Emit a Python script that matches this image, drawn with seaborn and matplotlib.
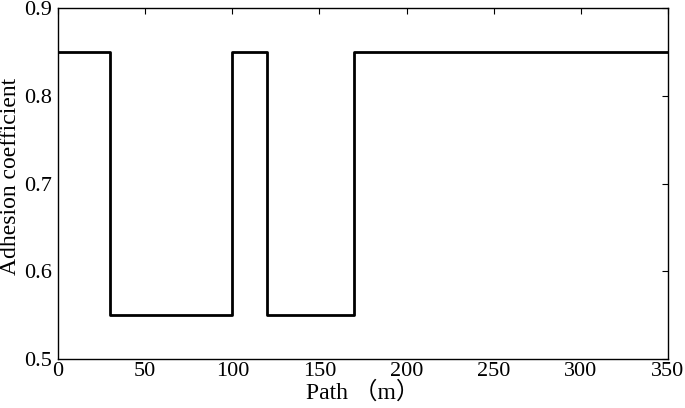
import pandas as pd
import matplotlib
matplotlib.use("Agg")
import matplotlib.pyplot as plt
import seaborn as sns

# datos del coeficiente de adherencia por tramo
path_m = [0, 30, 100, 120, 170, 350]
adhesion = [0.85, 0.55, 0.85, 0.55, 0.85, 0.85]
x_ticks = [0, 50, 100, 150, 200, 250, 300, 350]
y_ticks = [0.5, 0.6, 0.7, 0.8, 0.9]

sns.set_style("white")
plt.rcParams['font.family'] = ['Liberation Serif', 'Noto Sans CJK SC']
plt.rcParams['text.color'] = 'black'
plt.rcParams['axes.labelcolor'] = 'black'

df = pd.DataFrame({'Path': path_m, 'Adhesion': adhesion})

fig = plt.figure(figsize=(6.85, 4.08), dpi=100)
ax = fig.add_axes([0.0847, 0.120, 0.8905, 0.860])
sns.lineplot(data=df, x='Path', y='Adhesion', drawstyle='steps-post',
             color='black', linewidth=2, ax=ax)

ax.set_xlim(0, 350)
ax.set_ylim(0.5, 0.9)
ax.set_xticks(x_ticks)
ax.set_yticks(y_ticks)
ax.set_xticklabels([str(t) for t in x_ticks])
ax.set_yticklabels([f"{t:.1f}" for t in y_ticks])
ax.tick_params(direction='in', top=True, right=True, length=4, width=0.8,
               labelsize=16, colors='black')
ax.tick_params(axis='x', pad=2)
ax.tick_params(axis='y', pad=4)
for s in ax.spines.values():
    s.set_color('black')
    s.set_linewidth(1.0)

ax.set_xlabel('Path （m）', fontsize=17, labelpad=0)
ax.set_ylabel('Adhesion coefficient', fontsize=17)
ax.yaxis.set_label_coords(-0.060, 0.52)

plt.savefig('out.png', dpi=100)
